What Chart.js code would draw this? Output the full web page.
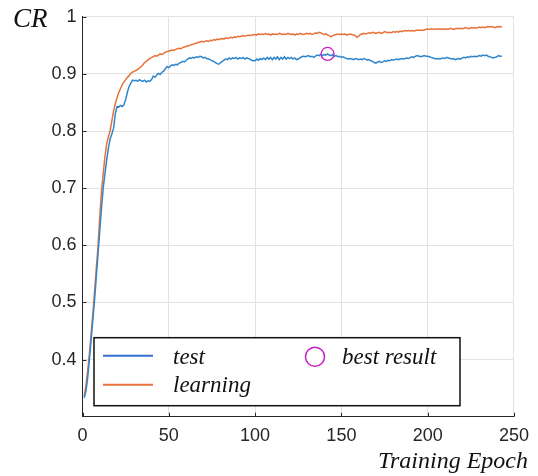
<!DOCTYPE html>
<html>
<head>
<meta charset="utf-8">
<script src="https://cdn.jsdelivr.net/npm/chart.js@4"></script>
<style>
  body { margin: 0; background: #fff; }
  #wrap { width: 538px; height: 476px; }
</style>
</head>
<body>
<div id="wrap"><canvas id="myChart" width="538" height="476"></canvas></div>
<script>
// values, one per epoch (1..243)
const test = [
  .333,.345,.368,.400,.435,.470,.505,.545,.585,.625,
  .665,.700,.725,.749,.770,.786,.795,.805,.830,.843,
  .842,.845,.843,.846,.855,.868,.878,.884,.889,.888,
  .889,.887,.890,.888,.887,.889,.886,.888,.887,.890,
  .896,.894,.898,.901,.899,.903,.905,.909,.913,.911,
  .914,.916,.915,.917,.916,.919,.920,.922,.921,.924,
  .926,.928,.927,.929,.928,.930,.929,.931,.930,.928,
  .929,.927,.926,.925,.923,.922,.920,.918,.917,.920,
  .922,.924,.926,.925,.928,.926,.928,.927,.929,.926,
  .928,.927,.929,.926,.928,.927,.926,.924,.923,.923,
  .926,.924,.927,.925,.928,.925,.929,.926,.929,.925,
  .929,.926,.930,.925,.929,.926,.930,.926,.929,.927,
  .929,.926,.928,.925,.926,.928,.930,.931,.930,.931,
  .932,.930,.931,.929,.931,.933,.932,.934,.932,.934,
  .933,.935,.933,.932,.934,.931,.932,.930,.931,.929,
  .930,.928,.927,.926,.927,.926,.925,.927,.926,.925,
  .926,.925,.927,.926,.924,.925,.923,.922,.920,.919,
  .921,.922,.920,.921,.923,.922,.924,.923,.925,.924,
  .925,.926,.925,.926,.927,.926,.927,.928,.927,.929,
  .930,.929,.931,.932,.931,.930,.931,.932,.931,.931,
  .930,.929,.928,.927,.926,.927,.926,.927,.928,.927,
  .929,.928,.927,.926,.927,.925,.926,.927,.926,.928,
  .929,.928,.930,.929,.931,.930,.931,.930,.931,.932,
  .931,.933,.932,.933,.931,.930,.929,.928,.929,.930,
  .932,.931,.931
];
const learning = [
  .336,.355,.380,.410,.445,.480,.520,.560,.598,.650,
  .695,.725,.755,.778,.790,.800,.818,.835,.848,.858,
  .867,.874,.881,.886,.890,.894,.897,.901,.903,.905,
  .906,.908,.910,.913,.916,.920,.922,.925,.927,.929,
  .930,.932,.931,.933,.935,.934,.936,.938,.939,.940,
  .941,.942,.941,.943,.944,.945,.944,.946,.947,.948,
  .949,.950,.951,.952,.953,.954,.955,.956,.957,.956,
  .957,.958,.957,.959,.958,.960,.959,.961,.960,.961,
  .962,.961,.963,.962,.963,.964,.963,.965,.964,.966,
  .965,.966,.967,.966,.967,.968,.967,.968,.968,.969,
  .968,.970,.969,.970,.969,.971,.969,.970,.968,.970,
  .969,.970,.969,.971,.970,.969,.970,.969,.971,.970,
  .969,.970,.968,.970,.969,.971,.970,.969,.970,.971,
  .970,.971,.969,.970,.972,.971,.973,.972,.970,.969,
  .970,.968,.967,.965,.967,.968,.969,.970,.969,.970,
  .969,.970,.968,.969,.970,.969,.968,.967,.964,.966,
  .969,.970,.971,.970,.971,.972,.971,.973,.972,.971,
  .972,.973,.971,.972,.974,.973,.972,.973,.972,.974,
  .973,.974,.973,.975,.974,.975,.976,.975,.976,.975,
  .976,.975,.976,.977,.976,.977,.976,.977,.978,.978,
  .978,.979,.978,.978,.979,.978,.979,.978,.979,.978,
  .979,.978,.980,.979,.978,.979,.980,.979,.980,.979,
  .980,.981,.980,.979,.981,.980,.981,.980,.981,.982,
  .981,.982,.981,.982,.983,.982,.983,.982,.981,.982,
  .983,.982,.983
];
const epochs = test.map((v, i) => i + 1);
const bestEpoch = 142;
const bestValue = 0.935;
const xTicks = [0, 50, 100, 150, 200, 250];
const yTicks = [0.4, 0.5, 0.6, 0.7, 0.8, 0.9, 1];

const blue = '#2f86cc';
const orange = '#e5733a';
const magenta = '#c81ec8';
const serif = '"Liberation Serif", "Times New Roman", serif';

// inward tick marks, axis titles and the boxed legend
const extras = {
  id: 'extras',
  afterDraw(chart) {
    const c = chart.ctx, a = chart.chartArea;
    const x = chart.scales.x, y = chart.scales.y;
    c.save();
    c.strokeStyle = '#262626';
    c.lineWidth = 1;
    c.beginPath();
    xTicks.forEach(t => {
      const px = Math.round(x.getPixelForValue(t)) + 0.5;
      c.moveTo(px, a.bottom); c.lineTo(px, a.bottom - 4);
    });
    yTicks.forEach(t => {
      const py = Math.round(y.getPixelForValue(t)) + 0.5;
      c.moveTo(a.left, py); c.lineTo(a.left + 4, py);
    });
    c.stroke();

    c.fillStyle = '#111';
    c.font = 'italic 27px ' + serif;
    c.textAlign = 'left';
    c.textBaseline = 'alphabetic';
    c.fillText('CR', 13, 27);
    c.font = 'italic 24px ' + serif;
    c.textAlign = 'right';
    c.fillText('Training Epoch', 528, 468);

    // legend
    const bx = a.left + 11.5, by = a.bottom - 79, bw = 366, bh = 68;
    c.fillStyle = '#fff';
    c.fillRect(bx, by, bw, bh);
    c.strokeStyle = '#111';
    c.lineWidth = 1.5;
    c.strokeRect(bx, by, bw, bh);
    c.lineWidth = 2;
    c.strokeStyle = '#2f6fd0';
    c.beginPath(); c.moveTo(bx + 9, by + 18); c.lineTo(bx + 59, by + 18); c.stroke();
    c.strokeStyle = orange;
    c.beginPath(); c.moveTo(bx + 9, by + 47); c.lineTo(bx + 59, by + 47); c.stroke();
    c.strokeStyle = magenta;
    c.lineWidth = 1.5;
    c.beginPath(); c.arc(bx + 221, by + 19, 9.5, 0, Math.PI * 2); c.stroke();
    c.fillStyle = '#111';
    c.font = 'italic 23px ' + serif;
    c.textAlign = 'left';
    c.textBaseline = 'middle';
    c.fillText('test', bx + 79, by + 20);
    c.fillText('learning', bx + 79, by + 48);
    c.fillText('best result', bx + 248, by + 20);
    c.restore();
  }
};

new Chart(document.getElementById('myChart'), {
  type: 'line',
  data: {
    labels: epochs,
    datasets: [{
      label: 'test',
      data: test,
      borderColor: blue,
      borderWidth: 1.5,
      pointRadius: 0,
      tension: 0,
      order: 2
    }, {
      label: 'learning',
      data: learning,
      borderColor: orange,
      borderWidth: 1.5,
      pointRadius: 0,
      tension: 0,
      order: 3
    }, {
      type: 'scatter',
      label: 'best result',
      data: [{x: bestEpoch, y: bestValue}],
      pointStyle: 'circle',
      pointRadius: 6.5,
      borderColor: magenta,
      borderWidth: 1.3,
      backgroundColor: 'rgba(0,0,0,0)',
      order: 1
    }]
  },
  options: {
    responsive: false,
    animation: false,
    layout: { padding: { left: 0, right: 23, top: 15, bottom: 0 } },
    plugins: { legend: { display: false }, tooltip: { enabled: false } },
    scales: {
      x: {
        type: 'linear',
        min: 0,
        max: 250,
        afterBuildTicks: s => { s.ticks = xTicks.map(v => ({value: v})); },
        afterFit: s => { s.height = 59.3; },
        grid: { color: '#e2e2e2', drawTicks: false },
        border: { color: '#262626', width: 1 },
        ticks: { color: '#262626', padding: 9, maxRotation: 0,
                 font: { family: '"Liberation Sans", Arial, sans-serif', size: 18 } }
      },
      y: {
        min: 0.3,
        max: 1,
        afterBuildTicks: s => { s.ticks = [0.3].concat(yTicks).map(v => ({value: v})); },
        afterFit: s => { s.width = 82.5; },
        grid: { color: '#e2e2e2', drawTicks: false },
        border: { color: '#262626', width: 1 },
        ticks: {
          color: '#262626', padding: 6,
          font: { family: '"Liberation Sans", Arial, sans-serif', size: 18 },
          callback: v => v < 0.35 ? '' : (v === 1 ? '1' : v.toFixed(1))
        }
      }
    }
  },
  plugins: [extras]
});
</script>
</body>
</html>
